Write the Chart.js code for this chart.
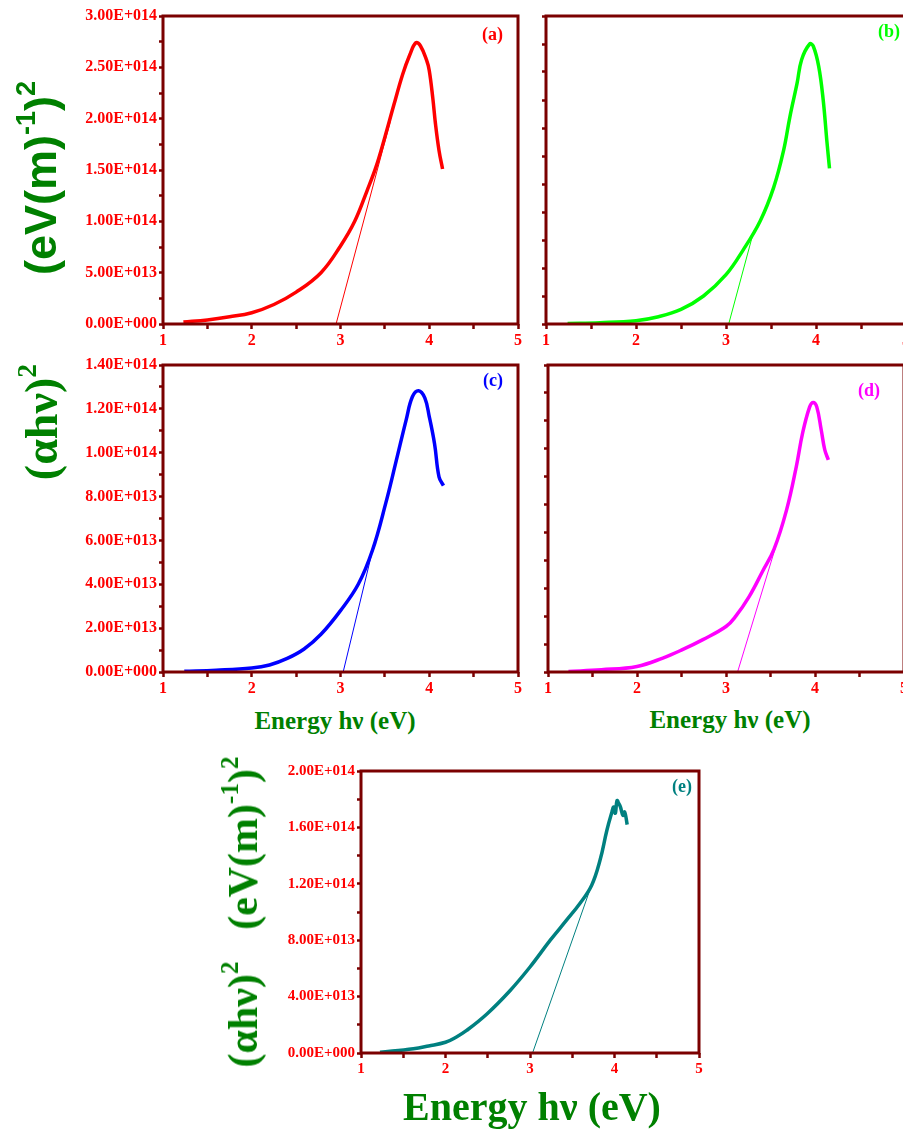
<!DOCTYPE html>
<html>
<head>
<meta charset="utf-8">
<script src="https://cdn.jsdelivr.net/npm/chart.js"></script>
<style>
  html, body { margin: 0; padding: 0; background: #fff; }
  body { width: 903px; height: 1131px; position: relative; overflow: hidden; }
  canvas.panel { position: absolute; }
  .ttl { position: absolute; color: #008000; font-weight: bold; white-space: nowrap; line-height: 1; z-index: 2; }
  .mid { transform: translate(-50%, -50%); }
  .rot { transform: translate(-50%, -50%) rotate(-90deg); }
  .ttl sup { font-size: 60%; vertical-align: 0.75em; line-height: 0; }
  .sans { font-family: "Liberation Sans", Arial, sans-serif; }
  .serif { font-family: "Liberation Serif", "Times New Roman", serif; }
</style>
</head>
<body>

<div class="ttl rot sans" style="left:40px; top:178px; font-size:45px;">(eV(m)<sup>-1</sup>)<sup>2</sup></div>
<div class="ttl rot serif" style="left:42px; top:422px; font-size:46px;">(αhν)<sup>2</sup></div>
<div class="ttl mid serif" style="left:335px; top:720px; font-size:25px;">Energy hν (eV)</div>
<div class="ttl mid serif" style="left:730px; top:719px; font-size:25px;">Energy hν (eV)</div>
<div class="ttl rot serif" style="left:243px; top:912px; font-size:42px;">(αhν)<sup>2</sup>&nbsp;&nbsp;&nbsp;(eV(m)<sup>-1</sup>)<sup>2</sup></div>
<div class="ttl mid serif" style="left:532px; top:1107px; font-size:40px;">Energy hν (eV)</div>

<script>
// valeurs : energie (eV) et (alpha h nu)^2 en unites de 1E+14
const SCALE = 1e14;

const energyA = [1.23, 1.5, 1.75, 2.0, 2.25, 2.5, 2.78, 3.0, 3.16, 3.3, 3.4, 3.5, 3.6, 3.7, 3.78, 3.85, 3.9, 3.97, 4.0, 4.04, 4.07, 4.11, 4.15];
const absA = [0.02, 0.04, 0.07, 0.11, 0.19, 0.31, 0.5, 0.76, 1.0, 1.3, 1.53, 1.82, 2.13, 2.43, 2.62, 2.74, 2.71, 2.57, 2.47, 2.2, 1.95, 1.69, 1.51];
const fitEA = [2.95, 3.56];
const fitVA = [0, 1.97];

const energyB = [1.24, 1.6, 2.0, 2.25, 2.5, 2.75, 3.0, 3.19, 3.38, 3.53, 3.64, 3.71, 3.79, 3.84, 3.93, 3.97, 4.03, 4.08, 4.12, 4.15];
const absB = [0.005, 0.012, 0.03, 0.065, 0.13, 0.25, 0.44, 0.66, 0.92, 1.22, 1.55, 1.85, 2.15, 2.36, 2.5, 2.48, 2.3, 2.0, 1.64, 1.39];
const fitEB = [3.03, 3.31];
const fitVB = [0, 0.835];

const energyC = [1.24, 1.6, 2.0, 2.2, 2.4, 2.59, 2.78, 3.0, 3.2, 3.36, 3.51, 3.62, 3.74, 3.81, 3.88, 3.95, 4.0, 4.06, 4.11, 4.16];
const absC = [0.003, 0.008, 0.018, 0.032, 0.062, 0.105, 0.172, 0.28, 0.4, 0.555, 0.77, 0.95, 1.15, 1.255, 1.283, 1.25, 1.165, 1.04, 0.89, 0.85];
const fitEC = [3.03, 3.37];
const fitVC = [0, 0.57];

const energyD = [1.23, 1.6, 2.0, 2.29, 2.51, 2.74, 3.0, 3.11, 3.26, 3.41, 3.54, 3.68, 3.79, 3.86, 3.94, 3.98, 4.02, 4.07, 4.11, 4.15];
const absD = [0.002, 0.008, 0.02, 0.05, 0.08, 0.116, 0.163, 0.2, 0.27, 0.36, 0.44, 0.58, 0.736, 0.855, 0.95, 0.966, 0.95, 0.867, 0.796, 0.76];
const fitED = [3.13, 3.55];
const fitVD = [0, 0.44];

const energyE = [1.225, 1.62, 1.8, 2.0, 2.12, 2.25, 2.49, 2.76, 3.0, 3.24, 3.43, 3.59, 3.73, 3.83, 3.91, 3.97, 3.99, 4.01, 4.03, 4.05, 4.07, 4.1, 4.12, 4.15];
const absE = [0.005, 0.03, 0.05, 0.076, 0.11, 0.16, 0.277, 0.44, 0.61, 0.8, 0.94, 1.06, 1.19, 1.37, 1.58, 1.71, 1.745, 1.7, 1.79, 1.77, 1.745, 1.685, 1.71, 1.62];
const fitEE = [3.03, 3.74];
const fitVE = [0, 1.21];

const AXIS = "#7B0000";
const TICK_RED = "#FF0000";

function pairs(xs, ys) {
  return xs.map((x, i) => ({ x: x, y: ys[i] * SCALE }));
}

// format 3.00E+014 comme dans Origin
function sciLabel(v) {
  if (v === 0) return "0.00E+000";
  const e = Math.floor(Math.log10(v) + 1e-9);
  return (v / Math.pow(10, e)).toFixed(2) + "E+" + String(e).padStart(3, "0");
}

// cadre + lettre du panneau
const framePlugin = {
  id: "frame",
  afterDraw(chart) {
    const a = chart.chartArea;
    const ctx = chart.ctx;
    const o = chart.options.plugins.frame;
    ctx.save();
    ctx.strokeStyle = AXIS;
    ctx.lineWidth = 3;
    ctx.strokeRect(a.left, a.top, a.right - a.left, a.bottom - a.top);
    ctx.font = 'bold 18px "Liberation Serif"';
    ctx.fillStyle = o.color;
    ctx.textAlign = "right";
    ctx.textBaseline = "middle";
    ctx.fillText(o.label, a.right - o.dx, a.top + o.dy);
    ctx.restore();
  }
};

function makePanel(p) {
  const cv = document.createElement("canvas");
  cv.className = "panel";
  const w = p.right - p.left + p.yW + p.padR;
  const h = p.bottom - p.top + p.padT + p.xH;
  cv.width = w;
  cv.height = h;
  cv.style.left = (p.left - p.yW) + "px";
  cv.style.top = (p.top - p.padT) + "px";
  cv.style.width = w + "px";
  cv.style.height = h + "px";
  document.body.appendChild(cv);

  const tickFont = { family: "Liberation Serif", weight: "bold", size: p.font };

  return new Chart(cv, {
    type: "line",
    data: {
      datasets: [
        { data: pairs(p.energy, p.abs), borderColor: p.color, borderWidth: 3.5, pointRadius: 0, tension: 0.4, fill: false },
        { data: pairs(p.fitE, p.fitV), borderColor: p.color, borderWidth: 1, pointRadius: 0, tension: 0, fill: false }
      ]
    },
    options: {
      responsive: false,
      animation: false,
      devicePixelRatio: 1,
      layout: { padding: { top: p.padT, right: p.padR, left: 0, bottom: 0 } },
      plugins: {
        legend: { display: false },
        tooltip: { enabled: false },
        frame: { label: p.label, color: p.color, dx: p.tagDx, dy: p.tagDy }
      },
      scales: {
        x: {
          type: "linear", min: 1, max: 5,
          border: { display: false },
          grid: { drawOnChartArea: false, tickLength: 5, tickColor: AXIS, tickWidth: 2.5 },
          ticks: {
            stepSize: 0.5, autoSkip: false, maxRotation: 0, padding: 2,
            color: TICK_RED, font: tickFont,
            callback: (v) => (Number.isInteger(v) ? String(v) : "")
          },
          afterFit: (s) => { s.height = p.xH; s.paddingLeft = 0; s.paddingRight = 0; }
        },
        y: {
          type: "linear", min: 0, max: p.yMax * SCALE,
          border: { display: false },
          grid: { drawOnChartArea: false, tickLength: 4, tickColor: AXIS, tickWidth: 2.5 },
          ticks: {
            stepSize: p.yStep * SCALE, autoSkip: false, padding: 2,
            color: TICK_RED, font: tickFont,
            callback: (v, i) => (p.showY && i % 2 === 0 ? sciLabel(v) : "")
          },
          afterFit: (s) => { s.width = p.yW; s.paddingTop = 0; s.paddingBottom = 0; }
        }
      }
    },
    plugins: [framePlugin]
  });
}

makePanel({ left: 163, right: 518, top: 16, bottom: 324, yW: 163, padT: 16, padR: 10, xH: 32, font: 16,
  yMax: 3, yStep: 0.25, showY: true, energy: energyA, abs: absA, fitE: fitEA, fitV: fitVA,
  color: "#FF0000", label: "(a)", tagDx: 15, tagDy: 19 });

makePanel({ left: 546, right: 906, top: 16, bottom: 324, yW: 10, padT: 16, padR: 10, xH: 32, font: 16,
  yMax: 2.75, yStep: 0.25, showY: false, energy: energyB, abs: absB, fitE: fitEB, fitV: fitVB,
  color: "#00FF00", label: "(b)", tagDx: 6, tagDy: 16 });

makePanel({ left: 163, right: 518, top: 365, bottom: 672, yW: 163, padT: 20, padR: 10, xH: 32, font: 16,
  yMax: 1.4, yStep: 0.1, showY: true, energy: energyC, abs: absC, fitE: fitEC, fitV: fitVC,
  color: "#0000FF", label: "(c)", tagDx: 15, tagDy: 16 });

makePanel({ left: 548, right: 904, top: 365, bottom: 672, yW: 10, padT: 20, padR: 10, xH: 32, font: 16,
  yMax: 1.1, yStep: 0.1, showY: false, energy: energyD, abs: absD, fitE: fitED, fitV: fitVD,
  color: "#FF00FF", label: "(d)", tagDx: 24, tagDy: 26 });

makePanel({ left: 361, right: 699, top: 771, bottom: 1053, yW: 101, padT: 20, padR: 10, xH: 32, font: 15,
  yMax: 2.0, yStep: 0.2, showY: true, energy: energyE, abs: absE, fitE: fitEE, fitV: fitVE,
  color: "#008080", label: "(e)", tagDx: 7, tagDy: 16 });
</script>
</body>
</html>
